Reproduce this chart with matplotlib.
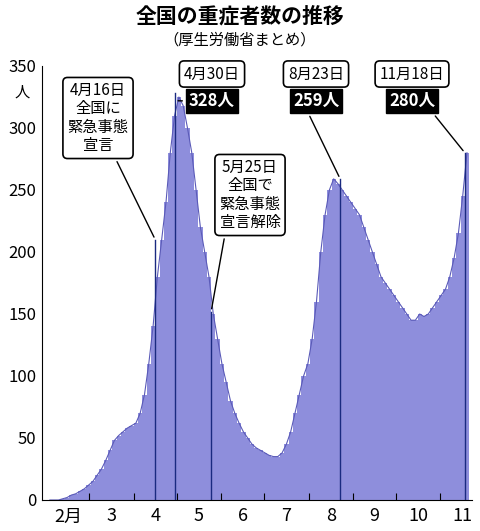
import matplotlib
matplotlib.use("Agg")
import matplotlib.pyplot as plt
import numpy as np

plt.rcParams['font.family'] = ['Noto Sans CJK JP', 'DejaVu Sans']

# day 0 = Feb 1, 2020; one value every 3 days
days = list(range(0, 292, 3))
values = [0,0,0,1,2,4,5,7,9,12,
          15,20,25,32,40,48,52,55,58,60,
          62,70,85,110,140,180,210,240,280,310,
          325,318,300,280,250,220,200,180,150,130,
          110,95,80,70,62,55,50,45,42,40,
          38,36,35,35,38,45,55,70,85,100,
          110,130,160,200,230,250,259,255,250,245,
          240,235,230,220,210,200,190,180,175,170,
          165,160,155,150,145,145,150,148,150,155,
          160,165,170,180,195,215,245,280]
month_starts = [0, 29, 60, 90, 121, 151, 182, 213, 243, 274]
month_labels = ["2月", "3", "4", "5", "6", "7", "8", "9", "10", "11"]
event_days = [75, 89, 114, 204, 291]
event_vals = [210, 328, 152, 259, 280]

W, H = 480, 531
fig = plt.figure(figsize=(W/100, H/100), dpi=100)
def fx(x): return x / W
def fy(y): return 1 - y / H
ax = fig.add_axes([fx(42), fy(500), fx(472) - fx(42), fy(66) - fy(500)])
ax.bar(days, values, width=3, align='edge', color='#8e8edc', edgecolor='none')
ax.plot(np.array(days) + 1.5, values, color='#5a5ab8', lw=0.8)
for d, v in zip(event_days, event_vals):
    ax.plot([d, d], [0, v], color='#1a2a80', lw=1)
ax.set_xlim(-4, 296)
ax.set_ylim(0, 350)
ax.set_yticks(range(0, 351, 50))
ax.tick_params(axis='y', labelsize=12, length=0, pad=4)
ax.set_xticks(month_starts[1:])
ax.set_xticklabels([])
ax.tick_params(axis='x', length=5, direction='in')
mids = [(month_starts[i] + (month_starts[i+1] if i+1 < len(month_starts) else 305)) / 2 for i in range(len(month_starts))]
for m, lab in zip(mids, month_labels):
    ax.text(m, -6, lab, ha='center', va='top', fontsize=13, transform=ax.transData)
for s in ['top', 'right']:
    ax.spines[s].set_visible(False)
fig.text(fx(22), fy(92), "人", fontsize=11, ha='center', va='center')

fig.text(0.5, fy(16), "全国の重症者数の推移", fontsize=15, fontweight='bold', ha='center', va='center')
fig.text(0.5, fy(40), "（厚生労働省まとめ）", fontsize=11, ha='center', va='center')

box = dict(boxstyle='round,pad=0.3', fc='white', ec='black', lw=1.2)
dark = dict(boxstyle='square,pad=0.2', fc='black', ec='black')

def note(txt, x, y, d, v, tip, bb=box, color='black', size=11, weight='normal'):
    ax.annotate(txt, xy=(d, v), xycoords='data', xytext=(fx(x), fy(y)),
                textcoords='figure fraction', ha='center', va='center', fontsize=size,
                linespacing=1.1, bbox=bb, color=color, fontweight=weight,
                arrowprops=dict(arrowstyle='-', color='black', lw=1, relpos=tip))

note("4月16日\n全国に\n緊急事態\n宣言", 98, 118, 75, 210, (0.75, 0))
note("5月25日\n全国で\n緊急事態\n宣言解除", 250, 195, 114, 152, (0.1, 0))
for date, val, x in [("4月30日", "328人", 212), ("8月23日", "259人", 316), ("11月18日", "280人", 412)]:
    fig.text(fx(x), fy(74), date, fontsize=11, ha='center', va='center', bbox=box)
note("328人", 212, 101, 89, 322, (0.0, 0.5), bb=dark, color='white', size=12, weight='bold')
note("259人", 316, 101, 204, 259, (0.3, 0), bb=dark, color='white', size=12, weight='bold')
note("280人", 412, 101, 291, 280, (0.9, 0), bb=dark, color='white', size=12, weight='bold')

fig.savefig("out.png", dpi=100)
